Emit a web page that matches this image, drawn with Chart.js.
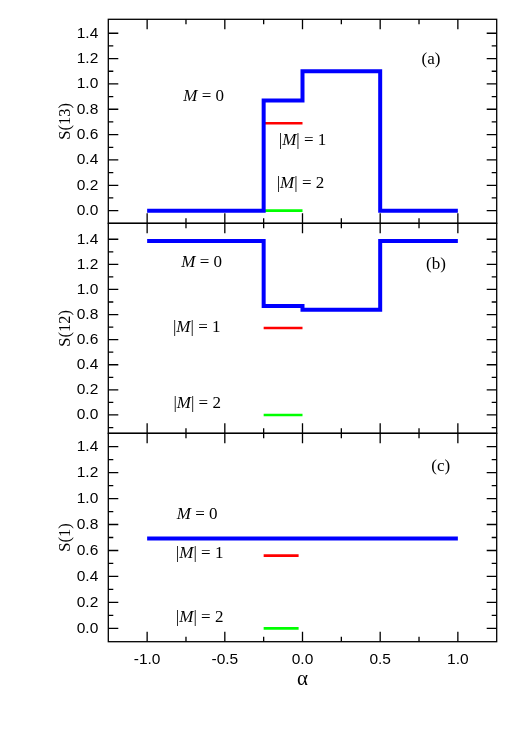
<!DOCTYPE html>
<html>
<head>
<meta charset="utf-8">
<script src="https://cdn.jsdelivr.net/npm/chart.js@4.4.1/dist/chart.umd.min.js"></script>
<style>
  html, body { margin: 0; padding: 0; background: #fff; }
  #wrap { position: relative; width: 518px; height: 733px; }
  #wrap canvas { position: absolute; left: 0; top: 0; }
</style>
</head>
<body>
<div id="wrap">
  <canvas id="panelA" width="518" height="733"></canvas>
  <canvas id="panelB" width="518" height="733"></canvas>
  <canvas id="panelC" width="518" height="733"></canvas>
</div>
<script>
// axis ticks
const alphaTicks = [-1.0, -0.5, 0.0, 0.5, 1.0];
const alphaMinor = [-0.75, -0.25, 0.25, 0.75];
const sTicks = [0.0, 0.2, 0.4, 0.6, 0.8, 1.0, 1.2, 1.4];
const sMinor = [-0.1, 0.1, 0.3, 0.5, 0.7, 0.9, 1.1, 1.3];

// M = 0 : step breakpoints, each value holds until the next breakpoint
const alphaM0 = [-1.0, -0.25, 0.0, 0.5, 1.0];
const s13M0 = [0.0, 0.87, 1.10, 0.0, 0.0];
const s12M0 = [1.386, 0.868, 0.838, 1.386, 1.386];
const alphaM0c = [-1.0, 1.0];
const s1M0 = [0.693, 0.693];

// |M| = 1 and |M| = 2 (short segments)
const alphaM12 = [-0.25, 0.0];
const alphaM12c = [-0.25, -0.025];
const s13M1 = [0.69, 0.69];
const s12M1 = [0.693, 0.693];
const s1M1 = [0.56, 0.56];
const s13M2 = [0.0, 0.0];
const s12M2 = [0.0, 0.0];
const s1M2 = [0.0, 0.0];

const BLUE = '#0000ff', RED = '#ff0000', GREEN = '#00ff00';
const serif = '"Liberation Serif", "Times New Roman", serif';
const sans = '"Liberation Sans", Arial, sans-serif';

function pts(xs, ys) {
  return xs.map((x, i) => ({ x: x, y: ys[i] }));
}

function line(xs, ys, color, w) {
  return {
    data: pts(xs, ys),
    borderColor: color,
    borderWidth: w,
    pointRadius: 0,
    stepped: 'before',
    fill: false,
    borderCapStyle: 'butt',
    borderJoinStyle: 'miter'
  };
}

// frame + inward ticks on all four sides
const frameTicks = {
  id: 'frameTicks',
  afterDraw(chart) {
    const { ctx, chartArea: a } = chart;
    const x = chart.scales.x, y = chart.scales.y;
    ctx.save();
    ctx.strokeStyle = '#000';
    ctx.lineWidth = 1.3;
    ctx.beginPath();
    const tx = (vals, len) => vals.forEach(v => {
      const p = x.getPixelForValue(v);
      ctx.moveTo(p, a.top); ctx.lineTo(p, a.top + len);
      ctx.moveTo(p, a.bottom); ctx.lineTo(p, a.bottom - len);
    });
    const ty = (vals, len) => vals.filter(v => v > y.min + 0.02 && v < y.max - 0.02).forEach(v => {
      const p = y.getPixelForValue(v);
      ctx.moveTo(a.left, p); ctx.lineTo(a.left + len, p);
      ctx.moveTo(a.right, p); ctx.lineTo(a.right - len, p);
    });
    tx(alphaTicks, 10); tx(alphaMinor, 5);
    ty(sTicks, 10); ty(sMinor, 5);
    ctx.stroke();
    ctx.strokeRect(a.left, a.top, a.right - a.left, a.bottom - a.top);
    ctx.restore();
  }
};

// text labels placed in data coordinates
function makeText(items) {
  return {
    id: 'panelText',
    afterDatasetsDraw(chart) {
      const ctx = chart.ctx, x = chart.scales.x, y = chart.scales.y;
      ctx.save();
      ctx.fillStyle = '#000';
      ctx.textBaseline = 'middle';
      ctx.textAlign = 'left';
      items.forEach(it => {
        const fonts = it.parts.map(p => (p[1] === 'i' ? 'italic ' : '') + '17px ' + serif);
        let w = 0;
        it.parts.forEach((p, k) => { ctx.font = fonts[k]; w += ctx.measureText(p[0]).width; });
        let px = x.getPixelForValue(it.x) - w / 2;
        const py = y.getPixelForValue(it.y);
        it.parts.forEach((p, k) => {
          ctx.font = fonts[k];
          ctx.fillText(p[0], px, py);
          px += ctx.measureText(p[0]).width;
        });
      });
      ctx.restore();
    }
  };
}

const m0 = [['M', 'i'], [' = 0', 'n']];
const m1 = [['|', 'n'], ['M', 'i'], ['| = 1', 'n']];
const m2 = [['|', 'n'], ['M', 'i'], ['| = 2', 'n']];

function panel(id, opt) {
  const bottomAxis = !!opt.bottomAxis;
  return new Chart(document.getElementById(id), {
    type: 'line',
    data: { datasets: opt.datasets },
    options: {
      responsive: false,
      animation: false,
      layout: { padding: { left: 55.5, right: 21.3, top: opt.top, bottom: opt.bottom } },
      plugins: { legend: { display: false }, tooltip: { enabled: false } },
      scales: {
        x: {
          type: 'linear',
          min: -1.25,
          max: 1.25,
          display: bottomAxis,
          grid: { display: false, drawTicks: false },
          border: { display: false },
          afterBuildTicks: s => { s.ticks = alphaTicks.map(v => ({ value: v })); },
          afterFit: s => { if (bottomAxis) s.height = 50; },
          ticks: {
            padding: 9,
            color: '#000',
            font: { family: sans, size: 15.5 },
            callback: v => Number(v).toFixed(1)
          },
          title: { display: true, text: 'α', color: '#000', padding: 0, font: { family: serif, size: 21 } }
        },
        y: {
          type: 'linear',
          min: opt.yMin,
          max: opt.yMax,
          grid: { display: false, drawTicks: false },
          border: { display: false },
          afterBuildTicks: s => { s.ticks = sTicks.map(v => ({ value: v })); },
          afterFit: s => { s.width = 52.8; },
          ticks: {
            padding: 10,
            color: '#000',
            font: { family: sans, size: 15.5 },
            callback: v => Number(v).toFixed(1)
          },
          title: { display: true, text: opt.title, color: '#000', padding: 0, font: { family: serif, size: 16.5 } }
        }
      }
    },
    plugins: [frameTicks, makeText(opt.labels)]
  });
}

panel('panelA', {
  top: 15, bottom: 509.7, yMin: -0.1, yMax: 1.51, title: 'S(13)',
  datasets: [
    line(alphaM0, s13M0, BLUE, 4),
    line(alphaM12, s13M1, RED, 2.6),
    line(alphaM12, s13M2, GREEN, 2.6)
  ],
  labels: [
    { x: -0.636, y: 0.90, parts: m0 },
    { x: 0.0, y: 0.55, parts: m1 },
    { x: -0.013, y: 0.21, parts: m2 },
    { x: 0.827, y: 1.19, parts: [['(a)', 'n']] }
  ]
});

panel('panelB', {
  top: 223.3, bottom: 299.7, yMin: -0.146, yMax: 1.527, title: 'S(12)',
  datasets: [
    line(alphaM0, s12M0, BLUE, 4),
    line(alphaM12, s12M1, RED, 2.6),
    line(alphaM12, s12M2, GREEN, 2.6)
  ],
  labels: [
    { x: -0.649, y: 1.217, parts: m0 },
    { x: -0.681, y: 0.70, parts: m1 },
    { x: -0.678, y: 0.095, parts: m2 },
    { x: 0.859, y: 1.20, parts: [['(b)', 'n']] }
  ]
});

panel('panelC', {
  top: 433.3, bottom: 41.3, yMin: -0.103, yMax: 1.503, title: 'S(1)', bottomAxis: true,
  datasets: [
    line(alphaM0c, s1M0, BLUE, 4),
    line(alphaM12c, s1M1, RED, 2.6),
    line(alphaM12c, s1M2, GREEN, 2.6)
  ],
  labels: [
    { x: -0.678, y: 0.874, parts: m0 },
    { x: -0.662, y: 0.58, parts: m1 },
    { x: -0.662, y: 0.087, parts: m2 },
    { x: 0.89, y: 1.245, parts: [['(c)', 'n']] }
  ]
});
</script>
</body>
</html>
